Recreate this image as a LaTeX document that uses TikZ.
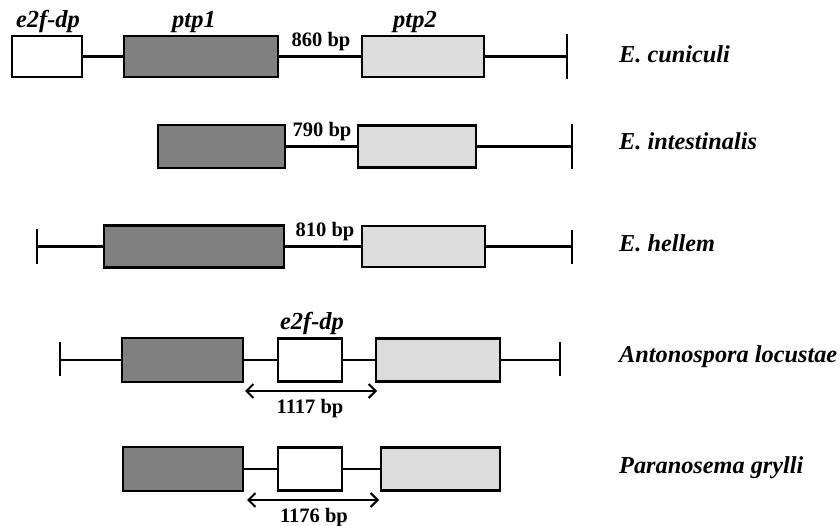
\documentclass[tikz,border=0pt]{standalone}
\usepackage{fontspec}
\setmainfont{Liberation Serif}
\usetikzlibrary{arrows.meta}
\definecolor{darkbox}{HTML}{808080}
\definecolor{lightbox}{HTML}{DCDCDC}
\tikzset{
  gene/.style={draw=black, line width=2.2pt, inner sep=0pt, outer sep=0pt, rectangle},
  gdark/.style={gene, fill=darkbox},
  glight/.style={gene, fill=lightbox},
  gwhite/.style={gene, fill=white},
  link/.style={line width=2.2pt},
  endbar/.style={line width=2.6pt},
  sp/.style={font=\fontsize{24.3}{24.3}\selectfont\bfseries\itshape, anchor=base west, inner sep=0pt},
  gl/.style={font=\fontsize{24.5}{24.5}\selectfont\bfseries\itshape, anchor=base, inner sep=0pt},
  bp/.style={font=\fontsize{20.5}{20.5}\selectfont\bfseries, anchor=base, inner sep=0pt},
  span/.style={line width=2pt, {Straight Barb[length=7pt,width=14pt]}-{Straight Barb[length=7pt,width=14pt]}}
}
\begin{document}
\begin{tikzpicture}[x=1pt,y=-1pt]
\useasboundingbox (0,0) rectangle (840,526);
% Row 1: E. cuniculi
\node[gwhite, minimum width=70pt, minimum height=41pt] (e1) at (47,56.5) {};
\node[gdark, minimum width=154pt, minimum height=41pt] (a1) at (201,56.5) {};
\node[glight, minimum width=122pt, minimum height=41pt] (b1) at (423,56.5) {};
\coordinate (r1) at (567,56.5);
\coordinate (r1t) at (567,34);
\coordinate (r1b) at (567,79);
\draw[link] (e1.east) -- (a1.west);
\draw[link] (a1.east) -- (b1.west);
\draw[link] (b1.east) -- (r1);
\draw[endbar] (r1t) -- (r1b);
\node[gl] (te1) at (48,28) {e2f-dp};
\node[gl] (ta1) at (194,28) {ptp1};
\node[gl] (tb1) at (415,28) {ptp2};
\node[bp] (bp1) at (321,47) {860 bp};
\node[sp] (s1) at (619,63) {E. cuniculi};
% Row 2: E. intestinalis
\node[gdark, minimum width=127pt, minimum height=43pt] (a2) at (221.5,146.5) {};
\node[glight, minimum width=118pt, minimum height=42pt] (b2) at (417,146.5) {};
\coordinate (r2) at (572,146.5);
\coordinate (r2t) at (572,124);
\coordinate (r2b) at (572,169);
\draw[link] (a2.east) -- (b2.west);
\draw[link] (b2.east) -- (r2);
\draw[endbar] (r2t) -- (r2b);
\node[bp] (bp2) at (322,137) {790 bp};
\node[sp] (s2) at (619,150) {E. intestinalis};
% Row 3: E. hellem
\coordinate (l3) at (37,246.5);
\coordinate (l3t) at (37,229);
\coordinate (l3b) at (37,264);
\node[gdark, minimum width=180pt, minimum height=42pt] (a3) at (194,246.5) {};
\node[glight, minimum width=123pt, minimum height=41pt] (b3) at (423.5,246.5) {};
\coordinate (r3) at (572,246.5);
\coordinate (r3t) at (572,230);
\coordinate (r3b) at (572,264);
\draw[endbar] (l3t) -- (l3b);
\draw[link] (l3) -- (a3.west);
\draw[link] (a3.east) -- (b3.west);
\draw[link] (b3.east) -- (r3);
\draw[endbar] (r3t) -- (r3b);
\node[bp] (bp3) at (325,237) {810 bp};
\node[sp] (s3) at (619,252) {E. hellem};
% Row 4: Antonospora locustae
\coordinate (l4) at (60,360);
\coordinate (l4t) at (60,342);
\coordinate (l4b) at (60,376);
\node[gdark, minimum width=121pt, minimum height=44pt] (a4) at (182.5,360) {};
\node[gwhite, minimum width=64pt, minimum height=43pt] (e4) at (310,360) {};
\node[glight, minimum width=124pt, minimum height=43pt] (b4) at (438,360) {};
\coordinate (r4) at (560,360);
\coordinate (r4t) at (560,342);
\coordinate (r4b) at (560,376);
\draw[endbar] (l4t) -- (l4b);
\draw[link] (l4) -- (a4.west);
\draw[link] (a4.east) -- (e4.west);
\draw[link] (e4.east) -- (b4.west);
\draw[link] (b4.east) -- (r4);
\draw[endbar] (r4t) -- (r4b);
\node[gl] (te4) at (312,330) {e2f-dp};
\coordinate (s4l) at (245,391);
\coordinate (s4r) at (377,391);
\draw[span] (s4l) -- (s4r);
\node[bp] (bp4) at (310,413) {1117 bp};
\node[sp] (s4) at (619,362) {Antonospora locustae};
% Row 5: Paranosema grylli
\node[gdark, minimum width=120pt, minimum height=44pt] (a5) at (183,469) {};
\node[gwhite, minimum width=64pt, minimum height=43pt] (e5) at (310,469) {};
\node[glight, minimum width=119pt, minimum height=43pt] (b5) at (440.5,469) {};
\draw[link] (a5.east) -- (e5.west);
\draw[link] (e5.east) -- (b5.west);
\coordinate (s5l) at (247,500);
\coordinate (s5r) at (379,500);
\draw[span] (s5l) -- (s5r);
\node[bp] (bp5) at (314,522) {1176 bp};
\node[sp] (s5) at (619,473) {Paranosema grylli};
\end{tikzpicture}
\end{document}
